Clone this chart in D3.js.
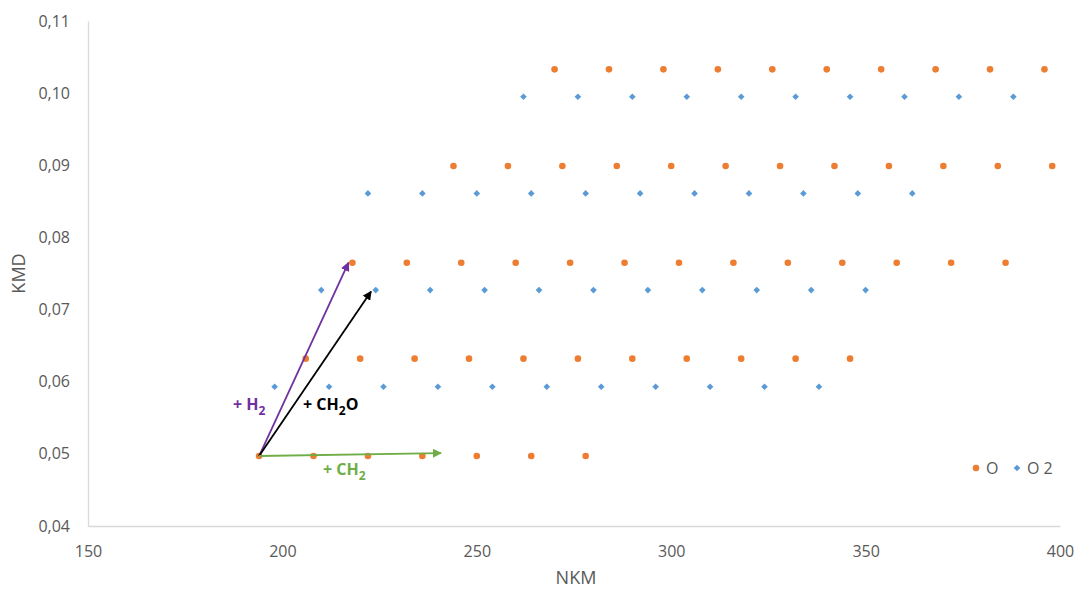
<!DOCTYPE html>
<html><head><meta charset="utf-8">
<script src="https://cdn.jsdelivr.net/npm/d3@7"></script>
<style>body{margin:0;background:#fff;} svg{display:block;font-family:"Open Sans","Liberation Sans",sans-serif;}</style>
</head><body>
<svg id="c" width="1077" height="590"></svg>
<script>
// Series "O" (orange circles): NKM values per row and the KMD of each row
const oRowsNKM = [
  [194, 208, 222, 236, 250, 264, 278],
  [206, 220, 234, 248, 262, 276, 290, 304, 318, 332, 346],
  [218, 232, 246, 260, 274, 288, 302, 316, 330, 344, 358, 372, 386],
  [244, 258, 272, 286, 300, 314, 328, 342, 356, 370, 384, 398],
  [270, 284, 298, 312, 326, 340, 354, 368, 382, 396]
];
const oRowsKMD = [0.0497, 0.0632, 0.0765, 0.0899, 0.1033];
// Series "O 2" (blue diamonds)
const o2RowsNKM = [
  [198, 212, 226, 240, 254, 268, 282, 296, 310, 324, 338],
  [210, 224, 238, 252, 266, 280, 294, 308, 322, 336, 350],
  [222, 236, 250, 264, 278, 292, 306, 320, 334, 348, 362],
  [262, 276, 290, 304, 318, 332, 346, 360, 374, 388]
];
const o2RowsKMD = [0.0593, 0.0727, 0.0861, 0.0995];
// Arrows: start and end in data units
const arrowNames = ["H2", "CH2O", "CH2"];
const arrowStart = [194, 0.0497];
const arrowEnds = [[217, 0.0765], [222.8, 0.0725], [240.8, 0.0501]];
const xTicks = [150, 200, 250, 300, 350, 400];
const yTicks = [0.04, 0.05, 0.06, 0.07, 0.08, 0.09, 0.10, 0.11];

const svg = d3.select("#c");
const L = 88, R = 1060, T = 21, B = 526;
const x = d3.scaleLinear().domain([150, 400]).range([L, R]);
const y = d3.scaleLinear().domain([0.04, 0.11]).range([B, T]);
const orange = "#ED7D31", blue = "#5B9BD5";
const tickColor = "#595959";

// axes
const xAxis = svg.append("g").attr("transform", `translate(0,${B})`)
  .call(d3.axisBottom(x).tickValues(xTicks).tickSize(0).tickPadding(20).tickFormat(d3.format("d")));
const yAxis = svg.append("g").attr("transform", `translate(${L},0)`)
  .call(d3.axisLeft(y).tickValues(yTicks).tickSize(0).tickPadding(18)
    .tickFormat(d => d3.format(".2f")(d).replace(".", ",")));
[xAxis, yAxis].forEach(g => {
  g.select(".domain").attr("stroke", "#d9d9d9").attr("stroke-width", 1.3);
  g.selectAll("text").attr("fill", tickColor).style("font-size", "16px").style("font-family", '"Open Sans",sans-serif');
});

// axis titles
svg.append("text").attr("x", (L + R) / 2 + 2).attr("y", 584).attr("text-anchor", "middle")
  .attr("fill", tickColor).style("font-size", "18px").text("NKM");
svg.append("text").attr("transform", `translate(25,${(T + B) / 2}) rotate(-90)`).attr("text-anchor", "middle")
  .attr("fill", tickColor).style("font-size", "18px").text("KMD");

// data points
const oPts = [], o2Pts = [];
oRowsNKM.forEach((row, i) => row.forEach(n => oPts.push([n, oRowsKMD[i]])));
o2RowsNKM.forEach((row, i) => row.forEach(n => o2Pts.push([n, o2RowsKMD[i]])));

svg.append("g").selectAll("circle").data(oPts).join("circle")
  .attr("cx", d => x(d[0])).attr("cy", d => y(d[1])).attr("r", 3.3).attr("fill", orange);
const diamond = d3.symbol().type(d3.symbolDiamond2).size(28);
svg.append("g").selectAll("path").data(o2Pts).join("path")
  .attr("transform", d => `translate(${x(d[0])},${y(d[1])})`).attr("d", diamond).attr("fill", blue);

// arrows
const arrowColors = ["#7030A0", "#000000", "#70AD47"];
const defs = svg.append("defs");
arrowColors.forEach((c, i) => {
  defs.append("marker").attr("id", "m" + i).attr("viewBox", "0 0 10 10").attr("refX", 9).attr("refY", 5)
    .attr("markerWidth", 5).attr("markerHeight", 5).attr("orient", "auto")
    .append("path").attr("d", "M0,0 L10,5 L0,10 z").attr("fill", c);
});
svg.append("g").selectAll("line").data(arrowEnds).join("line")
  .attr("x1", x(arrowStart[0])).attr("y1", y(arrowStart[1]))
  .attr("x2", d => x(d[0])).attr("y2", d => y(d[1]))
  .attr("stroke", (d, i) => arrowColors[i]).attr("stroke-width", 1.8)
  .attr("marker-end", (d, i) => `url(#m${i})`);

// arrow labels
function label(px, py, color, parts) {
  const t = svg.append("text").attr("x", px).attr("y", py).attr("fill", color)
    .attr("font-size", 16).attr("font-weight", "bold");
  parts.forEach(p => {
    const s = t.append("tspan").text(p[0]);
    if (p[1]) s.attr("dy", 5).attr("font-size", 12);
    else if (p[2]) s.attr("dy", -5);
  });
}
label(233, 410, arrowColors[0], [["+ H"], ["2", true]]);
label(303, 410, arrowColors[1], [["+ CH"], ["2", true], ["O", false, true]]);
label(323, 475, arrowColors[2], [["+ CH"], ["2", true]]);

// legend
svg.append("circle").attr("cx", 976).attr("cy", 468).attr("r", 3.3).attr("fill", orange);
svg.append("text").attr("x", 986).attr("y", 474).attr("fill", tickColor).style("font-size", "16px").text("O");
svg.append("path").attr("transform", "translate(1017,468)").attr("d", diamond).attr("fill", blue);
svg.append("text").attr("x", 1027).attr("y", 474).attr("fill", tickColor).style("font-size", "16px").text("O 2");
</script>
</body></html>
